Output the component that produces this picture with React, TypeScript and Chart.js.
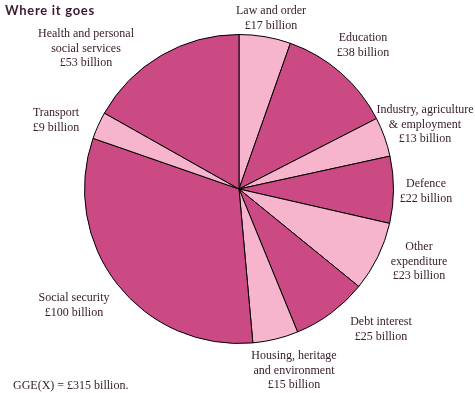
import React, { useEffect, useRef } from "react";
import { Chart, registerables } from "chart.js";

Chart.register(...registerables);

const categories: string[][] = [
  ["Law and order"],
  ["Education"],
  ["Industry, agriculture", "& employment"],
  ["Defence"],
  ["Other", "expenditure"],
  ["Debt interest"],
  ["Housing, heritage", "and environment"],
  ["Social security"],
  ["Transport"],
  ["Health and personal", "social services"],
];
const values: number[] = [17, 38, 13, 22, 23, 25, 15, 100, 9, 53];
const total = 315;

const DARK = "#cc4a84";
const LIGHT = "#f7b4cd";
const sliceColors = [LIGHT, DARK, LIGHT, DARK, LIGHT, DARK, LIGHT, DARK, LIGHT, DARK];

// label block positions (center x, first-line middle y)
const labelPos: [number, number][] = [
  [271, 11],
  [363, 38],
  [425, 110],
  [426, 184],
  [419, 247],
  [381, 322],
  [294, 356],
  [74, 298],
  [56, 113],
  [86, 34],
];

const TEXT = "#3a2030";

const labelPlugin = {
  id: "labels",
  afterDraw(chart: any) {
    const ctx = chart.ctx;
    ctx.save();
    ctx.fillStyle = TEXT;
    ctx.font = "12px 'Liberation Serif', serif";
    ctx.textAlign = "center";
    ctx.textBaseline = "middle";
    categories.forEach((lines, i) => {
      const [x, y] = labelPos[i];
      const all = [...lines, `£${values[i]} billion`];
      all.forEach((t, k) => ctx.fillText(t, x, y + k * 14.5));
    });
    ctx.textAlign = "left";
    ctx.fillText(`GGE(X) = £${total} billion.`, 13, 386);
    ctx.font = "bold 13px Lato, 'DejaVu Sans', sans-serif";
    ctx.fillStyle = "#3a1a30";
    try {
      (ctx as any).letterSpacing = "0.7px";
    } catch (e) {}
    ctx.fillText("Where it goes", 5, 11);
    ctx.restore();
  },
};

export default function App() {
  const ref = useRef<HTMLCanvasElement>(null);
  useEffect(() => {
    const chart = new Chart(ref.current!, {
      type: "pie",
      data: {
        labels: categories.map((c) => c.join(" ")),
        datasets: [
          {
            data: values,
            backgroundColor: sliceColors,
            borderColor: "#000000",
            borderWidth: 1,
          },
        ],
      },
      options: {
        responsive: false,
        animation: false,
        layout: { padding: { left: 84, right: 81, top: 34, bottom: 49 } },
        plugins: { legend: { display: false }, tooltip: { enabled: false } },
      },
      plugins: [labelPlugin],
    });
    return () => chart.destroy();
  }, []);
  return (
    <div style={{ position: "absolute", left: 0, top: 0, width: 475, height: 393, background: "#fff" }}>
      <canvas ref={ref} width={475} height={393} />
    </div>
  );
}
